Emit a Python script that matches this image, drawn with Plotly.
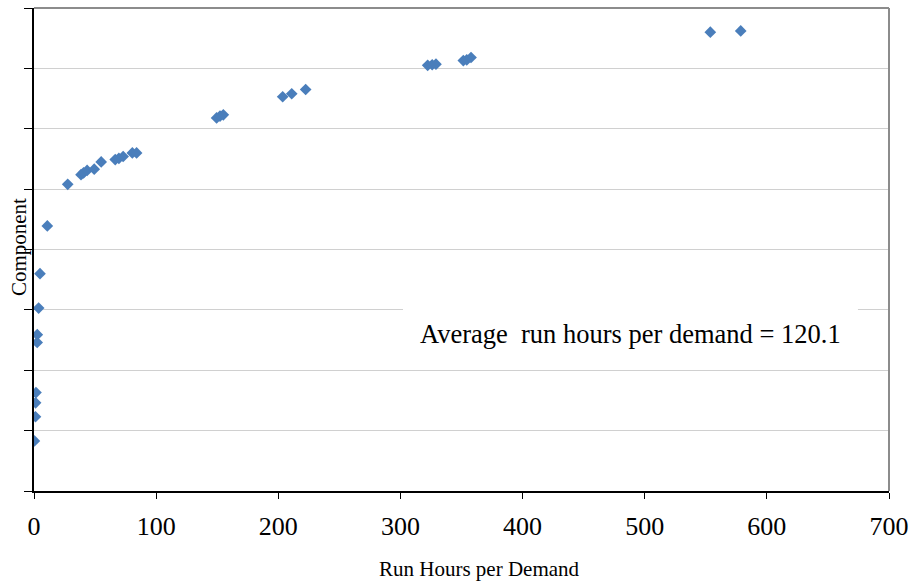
import plotly.graph_objects as go

# Run hours per demand for each component, with the component's position on the vertical scale
run_hours = [0.3, 1.2, 1.3, 1.6, 2.6, 2.7, 3.8, 4.9, 10.9, 27.6,
             38.5, 40.6, 43.5, 49.3, 55.0, 66.5, 69.5, 73.0, 80.5, 84.0,
             149.5, 152.3, 155.0, 203.6, 211.0, 222.4,
             322.3, 326.0, 329.1, 351.5, 354.3, 357.8, 553.7, 578.6]
component = [0.83, 1.23, 1.46, 1.63, 2.46, 2.59, 3.03, 3.60, 4.39, 5.08,
             5.24, 5.27, 5.31, 5.33, 5.45, 5.49, 5.51, 5.54, 5.60, 5.60,
             6.18, 6.21, 6.23, 6.53, 6.58, 6.65,
             7.05, 7.06, 7.07, 7.13, 7.14, 7.18, 7.60, 7.62]

x_ticks = [0, 100, 200, 300, 400, 500, 600, 700]
x_title = "Run Hours per Demand"
y_title = "Component"
note = "Average  run hours per demand = 120.1"

serif = "Liberation Serif, Times New Roman, serif"
blue = "#4A7EBB"

fig = go.Figure(go.Scatter(
    x=run_hours, y=component, mode="markers",
    marker=dict(symbol="diamond", size=9, color=blue, line=dict(width=0)),
    hoverinfo="x",
))

fig.update_layout(
    width=916, height=584,
    margin=dict(l=34, r=27, t=8, b=93),
    paper_bgcolor="white", plot_bgcolor="white",
    showlegend=False,
    font=dict(family=serif, color="black"),
    xaxis=dict(
        range=[0, 700], tickvals=x_ticks, ticktext=[str(v) for v in x_ticks],
        showgrid=False, zeroline=False,
        showline=True, linecolor="#000000", linewidth=1.5,
        ticks="outside", ticklen=6, tickcolor="#000000", tickwidth=1,
        ticklabelstandoff=5,
        tickfont=dict(family=serif, size=26, color="black"),
    ),
    yaxis=dict(
        range=[0, 8], dtick=1, showticklabels=False,
        showgrid=True, gridcolor="#D0D0D0", gridwidth=1,
        zeroline=False,
        showline=True, linecolor="#000000", linewidth=1.5,
        ticks="outside", ticklen=8, tickcolor="#000000", tickwidth=1,
    ),
    shapes=[
        # grey frame on the top and right of the plot area
        dict(type="line", xref="paper", yref="paper", x0=0, x1=1, y0=1, y1=1,
             line=dict(color="#8C8C8C", width=2), layer="above"),
        dict(type="line", xref="paper", yref="paper", x0=1, x1=1, y0=0, y1=1,
             line=dict(color="#8C8C8C", width=2), layer="above"),
        # white text box holding the average
        dict(type="rect", xref="paper", yref="paper",
             x0=0.4316, x1=0.9637, y0=0.258, y1=0.398,
             fillcolor="white", line=dict(width=0), layer="above"),
    ],
    annotations=[
        dict(text=note, xref="paper", yref="paper", x=0.698, y=0.325,
             xanchor="center", yanchor="middle", showarrow=False,
             font=dict(family=serif, size=26.5, color="black")),
        dict(text=x_title, xref="paper", yref="paper", x=0.521, y=-0.162,
             xanchor="center", yanchor="middle", showarrow=False,
             font=dict(family=serif, size=21, color="black")),
        dict(text=y_title, xref="paper", yref="paper", x=-0.0175, y=0.505,
             xanchor="center", yanchor="middle", showarrow=False, textangle=-90,
             font=dict(family=serif, size=21, color="black")),
    ],
)

fig.write_html("out.html")
